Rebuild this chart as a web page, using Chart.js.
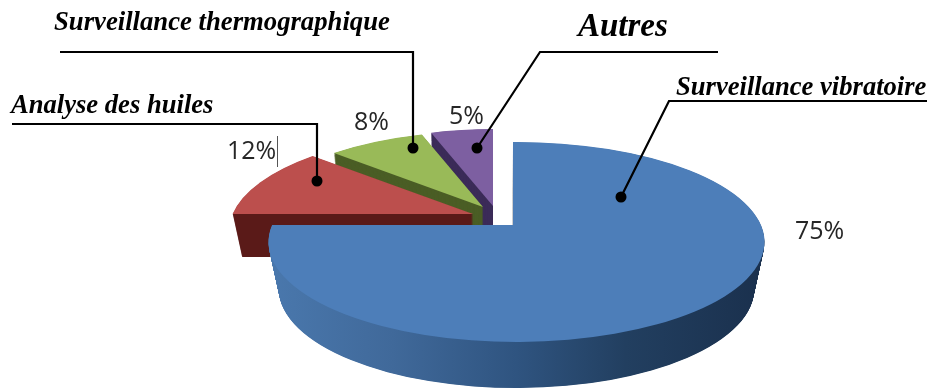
<!DOCTYPE html>
<html lang="fr">
<head>
<meta charset="utf-8">
<title>Techniques de surveillance</title>
<script src="https://cdn.jsdelivr.net/npm/chart.js@4"></script>
<style>
  html, body { margin: 0; padding: 0; background: #fff; overflow: hidden; }
  canvas { display: block; }
</style>
</head>
<body>
<canvas id="pie" width="929" height="389"></canvas>
<script>
// Share of each monitoring technique, in percent
const categories = ['Surveillance vibratoire', 'Analyse des huiles', 'Surveillance thermographique', 'Autres'];
const shares = [75, 12, 8, 5];

// Slice colours: top face and cut side
const faceColors = ['#4d7eb9', '#bc4f4d', '#99ba58', '#7d5fa1'];
const sideColors = ['#2f5278', '#5a1a19', '#4b5e26', '#3b2b58'];

// Projection of each exploded slice: tip, ellipse centre, ellipse radii, thickness
const tipX = [513, 473, 483, 493];
const tipY = [225, 214, 207, 206];
const hubX = [516.5, 476, 486, 495];
const hubY = [242, 231, 223, 222];
const radiusX = [248, 247, 234, 230];
const radiusY = [100, 100, 92, 93];
const thickness = [47, 43, 43, 43];
const tilt = 0.385;
const taper = 0.22;

// Callouts: label anchor, font, leader line and end dot
const labelX = [676, 11, 54, 578];
const labelY = [95, 113, 30, 36];
const labelSize = [26.6, 26.6, 26.7, 33];
const leaderPaths = [
  [[927, 101], [669, 101], [621, 197]],
  [[12, 124], [317, 124], [317, 181]],
  [[60, 52], [413, 52], [413, 148]],
  [[718, 52], [540, 52], [477, 148]]
];
const percentX = [795, 227, 354, 449];
const percentY = [239, 159, 130, 124];

function sectorPath(ctx, i, start, end, drop) {
  const rx = radiusX[i] - drop * taper;
  const ry = radiusY[i] - drop * 0.02;
  const ax = tipX[i], ay = tipY[i] + drop;
  const cx = hubX[i], cy = hubY[i] + drop;
  const edge = angle => {
    const dx = Math.cos(angle), dy = Math.sin(angle) * tilt;
    const px = ax - cx, py = ay - cy;
    const a = dx * dx / (rx * rx) + dy * dy / (ry * ry);
    const b = 2 * (px * dx / (rx * rx) + py * dy / (ry * ry));
    const c = px * px / (rx * rx) + py * py / (ry * ry) - 1;
    const t = (-b + Math.sqrt(b * b - 4 * a * c)) / (2 * a);
    return Math.atan2((ay + t * dy - cy) / ry, (ax + t * dx - cx) / rx);
  };
  ctx.beginPath();
  ctx.moveTo(ax, ay);
  ctx.ellipse(cx, cy, rx, ry, 0, edge(start), edge(end));
  ctx.closePath();
}

// Draws the arcs back to front as extruded, tilted sectors
const tiltedPie = {
  id: 'tiltedPie',
  beforeDatasetsDraw(chart) {
    const ctx = chart.ctx;
    const arcs = chart.getDatasetMeta(0).data;
    const rim = ctx.createLinearGradient(268, 0, 765, 0);
    rim.addColorStop(0, '#4a78ad');
    rim.addColorStop(0.25, '#40699a');
    rim.addColorStop(0.5, '#2f5480');
    rim.addColorStop(0.72, '#223f60');
    rim.addColorStop(1, '#1a304d');
    for (let i = arcs.length - 1; i >= 0; i--) {
      const { startAngle, endAngle } = arcs[i];
      ctx.fillStyle = i === 0 ? rim : sideColors[i];
      for (let drop = thickness[i]; drop > 0; drop -= 0.5) {
        sectorPath(ctx, i, startAngle, endAngle, drop);
        ctx.fill();
      }
      ctx.fillStyle = faceColors[i];
      sectorPath(ctx, i, startAngle, endAngle, 0);
      ctx.fill();
    }
    return false;
  },
  afterDraw(chart) {
    const ctx = chart.ctx;
    ctx.save();
    ctx.textAlign = 'left';
    ctx.textBaseline = 'alphabetic';

    // Leader lines with their end dots
    ctx.strokeStyle = '#000';
    ctx.lineWidth = 2.2;
    ctx.lineJoin = 'miter';
    leaderPaths.forEach(path => {
      ctx.beginPath();
      path.forEach(([x, y], k) => (k ? ctx.lineTo(x, y) : ctx.moveTo(x, y)));
      ctx.stroke();
      const [dotX, dotY] = path[path.length - 1];
      ctx.beginPath();
      ctx.arc(dotX, dotY, 5.5, 0, Math.PI * 2);
      ctx.fillStyle = '#000';
      ctx.fill();
    });

    // Technique names
    categories.forEach((name, i) => {
      ctx.font = `italic bold ${labelSize[i]}px "Liberation Serif"`;
      ctx.fillStyle = '#000';
      ctx.fillText(name, labelX[i], labelY[i]);
    });

    // Percentages
    ctx.font = '25px "Open Sans"';
    ctx.fillStyle = '#262626';
    shares.forEach((v, i) => ctx.fillText(v + '%', percentX[i], percentY[i]));

    // Thin caret beside the 12% label
    ctx.strokeStyle = '#555';
    ctx.lineWidth = 1;
    ctx.beginPath();
    ctx.moveTo(277.5, 136);
    ctx.lineTo(277.5, 167);
    ctx.stroke();
    ctx.restore();
  }
};

new Chart(document.getElementById('pie'), {
  type: 'pie',
  data: {
    labels: categories,
    datasets: [{ data: shares, backgroundColor: faceColors, borderWidth: 0 }]
  },
  options: {
    responsive: false,
    animation: false,
    events: [],
    plugins: { legend: { display: false }, tooltip: { enabled: false } }
  },
  plugins: [tiltedPie]
});
</script>
</body>
</html>
